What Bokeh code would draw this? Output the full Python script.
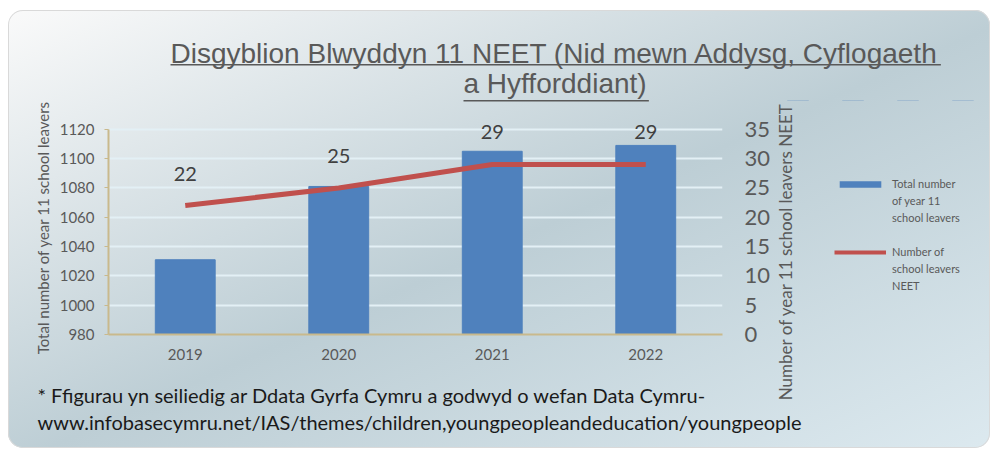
import math
from bokeh.plotting import figure
from bokeh.models import (ColumnDataSource, FactorRange, Range1d, LinearAxis, Title,
                          LabelSet, Label, Legend, LegendItem)
from bokeh.core.properties import value
from bokeh.embed import file_html
from bokeh.resources import INLINE

years = ["2019", "2020", "2021", "2022"]
total_leavers = [1031, 1081, 1105, 1109]
neet_leavers = [22, 25, 29, 29]
left_ticks = [980, 1000, 1020, 1040, 1060, 1080, 1100, 1120]
right_ticks = [0, 5, 10, 15, 20, 25, 30, 35]

title_1 = "Disgyblion Blwyddyn 11 NEET (Nid mewn Addysg, Cyflogaeth"
title_2 = "a Hyfforddiant)"
foot_1 = "* Ffigurau yn seiliedig ar Ddata Gyrfa Cymru a godwyd o wefan Data Cymru-"
foot_2 = "www.infobasecymru.net/IAS/themes/children,youngpeopleandeducation/youngpeople"
right_title = "Number of year 11 school leavers NEET"
legend_bar_lines = ["Total number", "of year 11", "school leavers"]
legend_line_lines = ["Number of", "school leavers", "NEET"]

BLUE = "#4f81bd"
RED = "#c0504d"
GREY = "#595959"
TAN = "#c9b98c"
FONT = "Lato"
TFONT = "Liberation Sans"

src = ColumnDataSource(dict(year=years, total=total_leavers, neet=neet_leavers,
                            lab=[str(v) for v in neet_leavers]))

p = figure(width=982, height=438, x_range=FactorRange(*years),
           y_range=Range1d(980, 1126), output_backend="svg", toolbar_location=None,
           min_border_left=100, min_border_right=268, min_border_top=110,
           min_border_bottom=114,
           styles={"margin-left": "8px", "margin-top": "10px",
                   "background": "linear-gradient(to bottom right, #fafafa 0%, #bdced5 52%, #dce9ef 100%)",
                   "border-radius": "15px",
                   "box-shadow": "inset 0 0 0 1px #d9d9d9"})
p.border_fill_color = None
p.background_fill_color = None
p.outline_line_color = None
p.extra_y_ranges = {"neet": Range1d(0, 36.5)}

bars = p.vbar(x="year", top="total", width=0.39, source=src, color=BLUE)
line = p.line(x="year", y="neet", source=src, y_range_name="neet",
              line_color=RED, line_width=5)

labels = LabelSet(x="year", y="neet", text="lab", source=src, y_range_name="neet",
                  y_offset=25, text_align="center", text_baseline="bottom",
                  text_font=value(FONT), text_font_size=value("20px"),
                  text_color="#404040")
p.add_layout(labels)

p.xgrid.grid_line_color = None
p.ygrid.grid_line_color = "#e3f0f5"
p.ygrid.grid_line_width = 2
p.yaxis.ticker = left_ticks
yax = p.yaxis[0]
yax.bounds = (980, 1120)
yax.axis_label = "Total number of year 11 school leavers"
yax.axis_label_text_font = FONT
yax.axis_label_text_font_size = "15px"
yax.axis_label_text_font_style = "normal"
yax.axis_label_text_color = GREY
yax.axis_label_standoff = 5
yax.major_label_text_font = FONT
yax.major_label_text_font_size = "15px"
yax.major_label_text_color = GREY
yax.major_label_standoff = 10
yax.axis_line_color = TAN
yax.axis_line_width = 2
yax.major_tick_line_color = TAN
yax.major_tick_in = 0
yax.major_tick_out = 4
yax.minor_tick_line_color = None

xax = p.xaxis[0]
xax.axis_line_color = TAN
xax.axis_line_width = 2
xax.major_tick_line_color = None
xax.major_label_text_font = FONT
xax.major_label_text_font_size = "15px"
xax.major_label_text_color = GREY
xax.major_label_standoff = 8

rax = LinearAxis(y_range_name="neet", ticker=right_ticks)
rax.axis_line_color = None
rax.major_tick_line_color = None
rax.minor_tick_line_color = None
rax.major_label_text_font = FONT
rax.major_label_text_font_size = "22px"
rax.major_label_text_color = GREY
rax.major_label_standoff = 16
p.add_layout(rax, "right")


def title(text, offset, standoff, size, font, color, place):
    t = Title(text=text, align="left", offset=offset, standoff=standoff,
              text_font=font, text_font_size=size, text_font_style="normal",
              text_color=color)
    p.add_layout(t, place)
    return t


def rule(offset, length, place, standoff=0):
    t = title(" ", offset, standoff, "1.3px", TFONT, GREY, place)
    t.background_fill_color = GREY
    try:
        t.padding = dict(left=0, right=length, top=0, bottom=0)
    except Exception:
        pass
    return t


# title: panels stacked outward from the frame
title(" ", 0, 16, "1px", TFONT, GREY, "above")          # spacer
rule(355, 185, "above")                                   # underline of line 2
title(title_2, 355, 0, "28px", TFONT, GREY, "above")
rule(62, 770, "above")                                    # underline of line 1
t1 = title(title_1, 62, 0, "28px", TFONT, GREY, "above")
try:
    t1.standoff = -12
except Exception:
    pass

# footnote
title(" ", 0, 15, "1px", FONT, "#1a1a1a", "below")        # spacer
title(foot_1, -71, 0, "20px", FONT, "#1a1a1a", "below")
title(foot_2, -71, 2, "20px", FONT, "#1a1a1a", "below")

# ---- overlay for right-axis title and legend (sits to the right of the chart) ----
ov = figure(width=220, height=300, x_range=FactorRange(*years), y_range=Range1d(-2, -1),
            output_backend="svg", toolbar_location=None, min_border=0,
            styles={"position": "absolute", "left": "770px", "top": "100px"})
ov.axis.visible = False
ov.grid.visible = False
ov.outline_line_color = None
ov.border_fill_color = None
ov.background_fill_color = None

ov.add_layout(Label(x=15, y=149, x_units="screen", y_units="screen", text=right_title,
                    angle=math.pi / 2, text_align="center", text_baseline="middle",
                    text_font=FONT, text_font_size="17px", text_color=GREY))

# legend proxies share the chart data; they are flat and fall outside this panel's
# range, so only their legend swatches are drawn
lg_bar = ov.vbar(x="year", top="total", bottom="total", width=0.39, source=src,
                 fill_color=BLUE, line_color=None)
lg_line = ov.line(x="year", y="neet", source=src, line_color=RED, line_width=4)
lg_blank = ov.line(x="year", y="neet", source=src, line_alpha=0)

items = [LegendItem(label=legend_bar_lines[0], renderers=[lg_bar])]
items += [LegendItem(label=t, renderers=[lg_blank]) for t in legend_bar_lines[1:]]
items.append(LegendItem(label=" ", renderers=[lg_blank]))
items.append(LegendItem(label=legend_line_lines[0], renderers=[lg_line]))
items += [LegendItem(label=t, renderers=[lg_blank]) for t in legend_line_lines[1:]]
legend = Legend(items=items, location=(64, 106), background_fill_alpha=0,
                border_line_color=None, label_text_font=FONT, label_text_font_size="11px",
                label_text_color=GREY, label_height=17, glyph_width=52, glyph_height=8,
                label_standoff=6, spacing=0, padding=0, margin=0)
ov.add_layout(legend)

open("out.html", "w").write(file_html([p, ov], INLINE))
